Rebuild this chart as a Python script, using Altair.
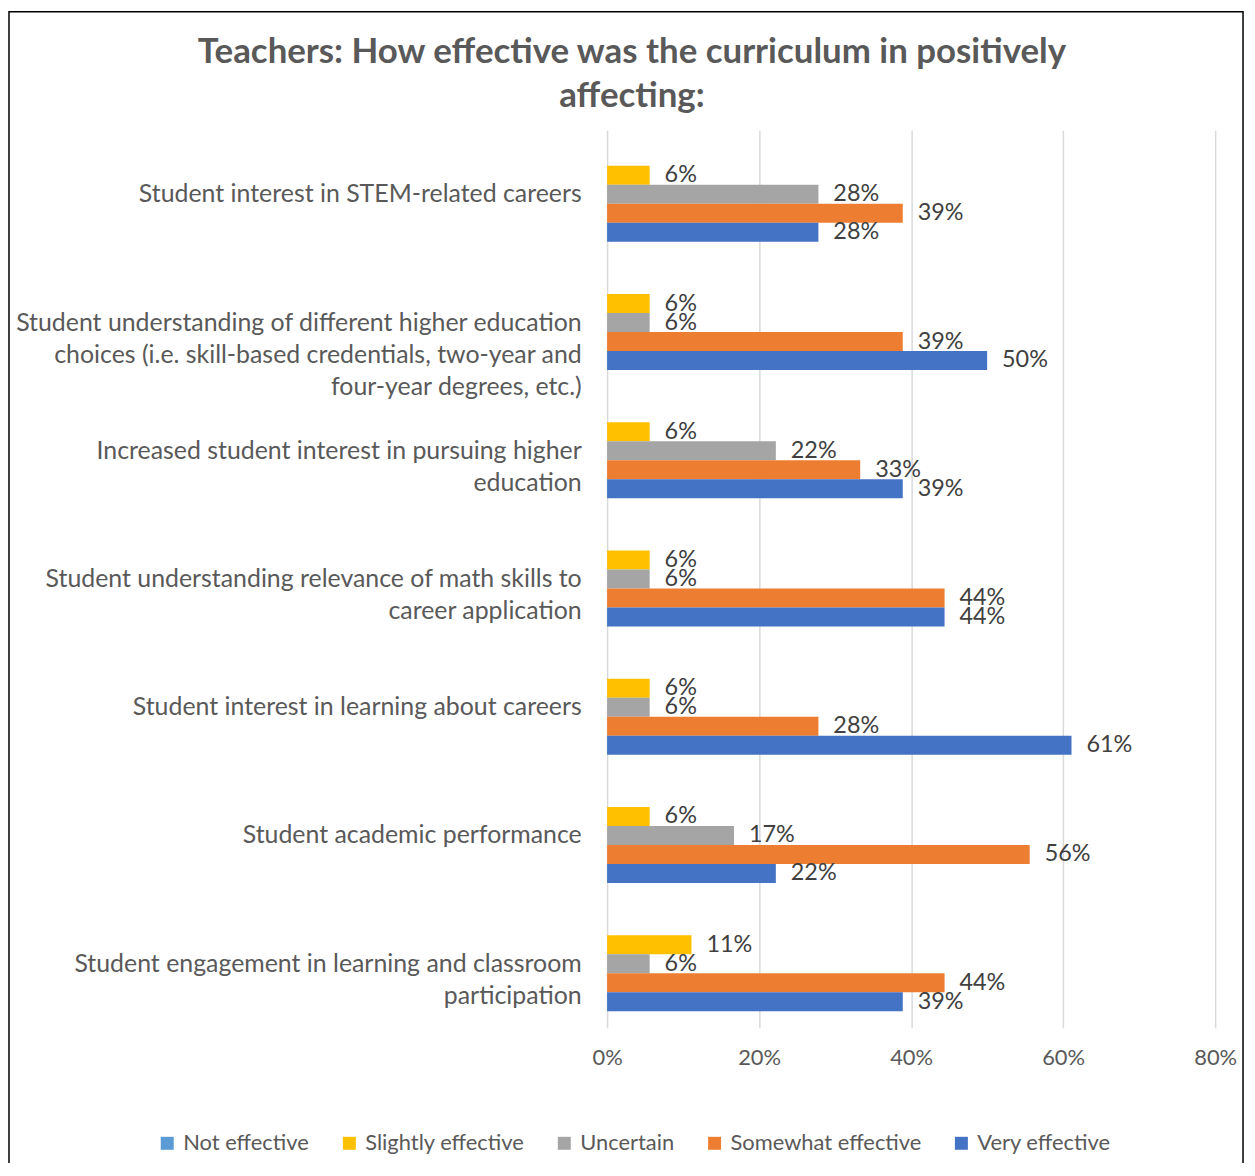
import altair as alt
import pandas as pd

title_lines = ["Teachers: How effective was the curriculum in positively", "affecting:"]
categories = [
    "Student interest in STEM-related careers",
    "Student understanding of different higher education|choices (i.e. skill-based credentials, two-year and|four-year degrees, etc.)",
    "Increased student interest in pursuing higher|education",
    "Student understanding relevance of math skills to|career application",
    "Student interest in learning about careers",
    "Student academic performance",
    "Student engagement in learning and classroom|participation",
]
series = ["Not effective", "Slightly effective", "Uncertain", "Somewhat effective", "Very effective"]
colors = ["#5B9BD5", "#FFC000", "#A5A5A5", "#ED7D31", "#4472C4"]
tick_values = [0, 0.2, 0.4, 0.6, 0.8]

# percentages
not_effective = [0, 0, 0, 0, 0, 0, 0]
slightly = [5.6, 5.6, 5.6, 5.6, 5.6, 5.6, 11.1]
uncertain = [27.8, 5.6, 22.2, 5.6, 5.6, 16.7, 5.6]
somewhat = [38.9, 38.9, 33.3, 44.4, 27.8, 55.6, 44.4]
very = [27.8, 50.0, 38.9, 44.4, 61.1, 22.2, 38.9]

rows = []
for s, vals in zip(series, [not_effective, slightly, uncertain, somewhat, very]):
    for c, v in zip(categories, vals):
        rows.append({"category": c, "series": s, "value": v / 100.0})
df = pd.DataFrame(rows)

FONT = "Lato"

y_enc = alt.Y(
    "category:N", sort=categories,
    scale=alt.Scale(paddingInner=0.26, paddingOuter=0.13),
    axis=alt.Axis(title=None, labelExpr="split(datum.label, '|')", labelFontSize=25,
                  labelColor="#595959", labelFont=FONT, labelLineHeight=32.5,
                  labelPadding=26, ticks=False, domain=False, labelLimit=700,
                  labelAlign="right"),
)
yoff_enc = alt.YOffset("series:N", sort=series, scale=alt.Scale(paddingInner=0, paddingOuter=0))
x_enc = alt.X(
    "value:Q", scale=alt.Scale(domain=[0, 0.8]),
    axis=alt.Axis(title=None, values=tick_values, format=".0%", grid=True,
                  gridColor="#d9d9d9", gridWidth=1.5, ticks=False, domain=False,
                  labelFlush=False, labelFontSize=22, labelColor="#595959",
                  labelFont=FONT, labelPadding=20),
)

bars = alt.Chart(df).mark_bar().encode(
    y=y_enc, yOffset=yoff_enc, x=x_enc,
    color=alt.Color("series:N", sort=series,
                    scale=alt.Scale(domain=series, range=colors),
                    legend=alt.Legend(title=None, orient="none", legendX=-453, legendY=1007,
                                      direction="horizontal", symbolType="square",
                                      symbolSize=170, symbolStrokeWidth=0,
                                      labelFontSize=22, labelColor="#595959", labelFont=FONT,
                                      labelLimit=400, columnPadding=29, labelOffset=5)),
)

labels = alt.Chart(df).transform_filter("datum.value > 0").mark_text(
    align="left", baseline="middle", dx=15, fontSize=23.5, color="#404040", font=FONT
).encode(
    y=y_enc, yOffset=yoff_enc, x="value:Q",
    text=alt.Text("value:Q", format=".0%"),
)

title = alt.Chart(pd.DataFrame({"a": [0]})).mark_text(
    text=title_lines, align="center", baseline="alphabetic", fontSize=35,
    fontWeight="bold", font=FONT, color="#595959", lineHeight=45,
).encode(x=alt.value(25), y=alt.value(-68))

border = alt.Chart(pd.DataFrame({"a": [0]})).mark_rect(
    fillOpacity=0, stroke="#000000", strokeWidth=1.5
).encode(x=alt.value(-601), x2=alt.value(639), y=alt.value(-119), y2=alt.value(1080))

chart = alt.layer(border, title, bars, labels).properties(
    width=611, height=902,
    padding={"left": 602, "top": 120, "right": 32, "bottom": 133},
    autosize=alt.AutoSizeParams(type="none"),
).configure_view(stroke=None)

chart.save("out.html", embed_options={"renderer": "svg", "actions": False})
